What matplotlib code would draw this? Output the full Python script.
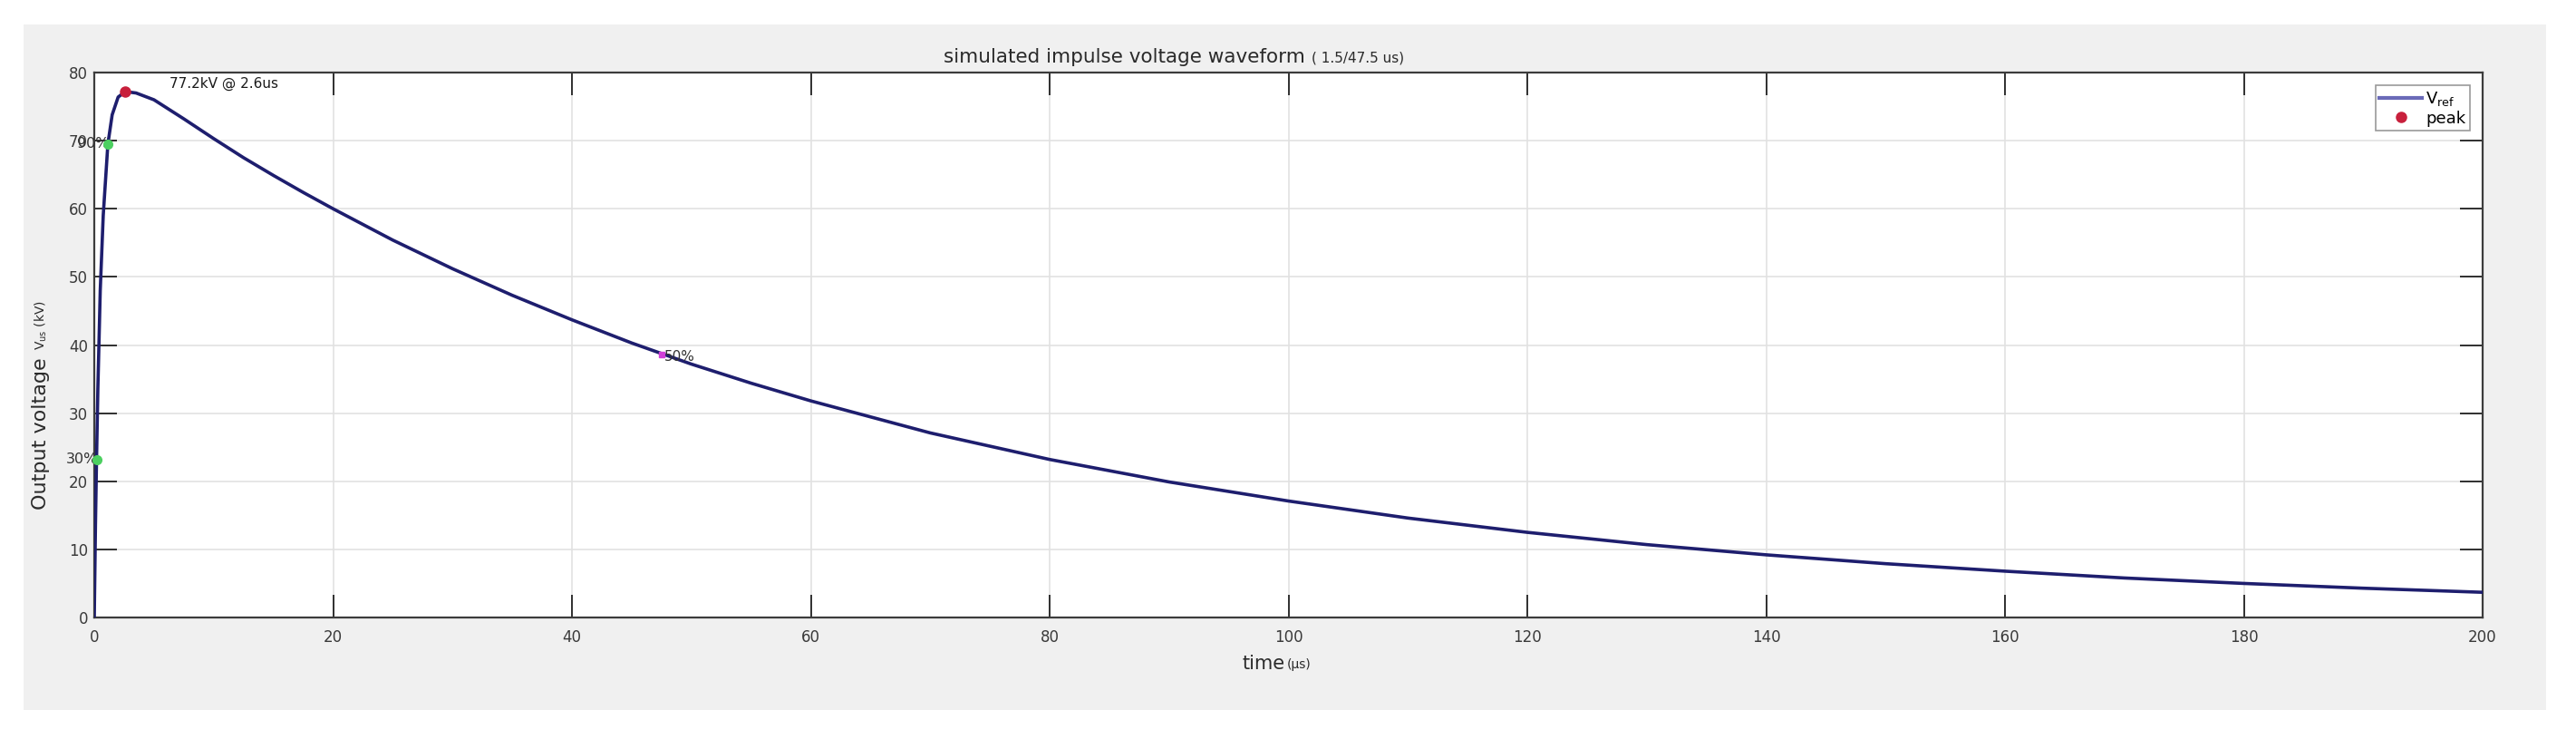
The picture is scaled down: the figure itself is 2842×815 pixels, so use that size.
import matplotlib
matplotlib.use('Agg')
from matplotlib import pyplot as plt
from matplotlib.lines import Line2D
from matplotlib.patches import Rectangle

# waveform (time in us, voltage in kV)
t_us = [0, 0.1, 0.19, 0.3, 0.5, 0.75, 1.14, 1.5, 2.0, 2.6, 3.5, 5, 7.5, 10,
        12.5, 15, 17.5, 20, 25, 30, 35, 40, 45, 50, 55, 60, 70, 80, 90, 100,
        110, 120, 130, 140, 150, 160, 170, 180, 190, 200]
v_kv = [0, 13.5, 23.2, 33.5, 48.0, 59.0, 69.5, 73.8, 76.4, 77.2, 77.0, 76.0,
        73.2, 70.3, 67.5, 64.9, 62.4, 60.0, 55.4, 51.2, 47.3, 43.7, 40.3,
        37.2, 34.4, 31.8, 27.1, 23.2, 19.9, 17.1, 14.6, 12.5, 10.7, 9.2, 7.9,
        6.8, 5.8, 5.0, 4.3, 3.7]

peak_t = 2.6
peak_v = 77.2

front_labels = ['30%', '90%']
front_t = [0.19, 1.14]
front_v = [23.2, 69.5]

tail_label = '50%'
tail_t = 47.5
tail_v = 38.6

x_ticks = list(range(0, 201, 20))
y_ticks = list(range(0, 81, 10))

W, H = 2842, 815


def fx(px):
    return px / W


def fy(py):
    return 1 - py / H


fig = plt.figure(figsize=(W / 100, H / 100), dpi=100, facecolor='white')
fig.patches.append(Rectangle((fx(26), fy(783)), fx(2809) - fx(26), fy(27) - fy(783),
                             transform=fig.transFigure, facecolor='#f0f0f0',
                             edgecolor='none', zorder=-5))

ax = fig.add_axes([fx(104), fy(681), fx(2739) - fx(104), fy(80) - fy(681)])
ax.set_zorder(2)
ax.set_facecolor('white')

ax.plot(t_us, v_kv, color='#1e1e6e', lw=2.6, zorder=3)
ax.plot(peak_t, peak_v, 'o', color='#c8203c', ms=8, zorder=4)
ax.plot(front_t, front_v, 'o', color='#4cd060', ms=7, zorder=4, clip_on=False)
ax.plot(tail_t, tail_v, 's', color='#d040d8', ms=5, zorder=4)

ax.text(6.3, 78.4, '%.1fkV @ %.1fus' % (peak_v, peak_t), fontsize=11,
        va='center', ha='left', color='#1a1a1a')
for lab, t, v in zip(front_labels, front_t, front_v):
    ax.annotate(lab, (t, v), xytext=(1, 0), textcoords='offset points',
                ha='right', va='center', fontsize=11.5, color='#333333',
                annotation_clip=False)
ax.annotate(tail_label, (tail_t, tail_v), xytext=(2, -2), textcoords='offset points',
            ha='left', va='center', fontsize=11, color='#333333')

ax.set_xlim(0, 200)
ax.set_ylim(0, 80)
ax.set_xticks(x_ticks)
ax.set_yticks(y_ticks)
ax.grid(True, color='#e2e2e2', lw=1.2)
ax.set_axisbelow(True)
ax.tick_params(direction='in', length=18, width=1.4, top=True, right=True,
               labelsize=12, labelcolor='#3a3a3a', color='#303030')
ax.tick_params(axis='x', pad=9)
ax.tick_params(axis='y', pad=5)
for sp in ax.spines.values():
    sp.set_color('#3c3c3c')
    sp.set_linewidth(1.6)

handles = [Line2D([], [], color='#6a6ab8', lw=3),
           Line2D([], [], marker='o', ls='none', color='#c8203c', ms=8)]
leg = ax.legend(handles, [r'$\mathregular{V_{ref}}$', 'peak'], loc='upper right',
                fontsize=13, frameon=True, fancybox=False, framealpha=1,
                edgecolor='#9a9a9a', handlelength=2.6, handletextpad=0.2,
                labelspacing=0.15, borderpad=0.25, borderaxespad=0.8)
leg.get_frame().set_linewidth(1.2)

# title in two sizes
fig.text(fx(1440), fy(63), 'simulated impulse voltage waveform', fontsize=15.5,
         ha='right', va='center', color='#2a2a2a')
fig.text(fx(1447), fy(64), '( 1.5/47.5 us)', fontsize=11,
         ha='left', va='center', color='#2a2a2a')

# x label
fig.text(fx(1418), fy(732), 'time', fontsize=15, ha='right', va='center',
         color='#2a2a2a')
fig.text(fx(1420), fy(733), '(\u03bcs)', fontsize=10, ha='left', va='center',
         color='#2a2a2a')

# y label
fig.text(fx(45), fy(562), 'Output voltage', fontsize=16, rotation=90,
         ha='center', va='bottom', color='#2a2a2a')
fig.text(fx(45), fy(386), r'$\mathregular{V_{us}}$ (kV)', fontsize=10, rotation=90,
         ha='center', va='bottom', color='#2a2a2a')

fig.savefig('out.png', dpi=100, facecolor='white')
